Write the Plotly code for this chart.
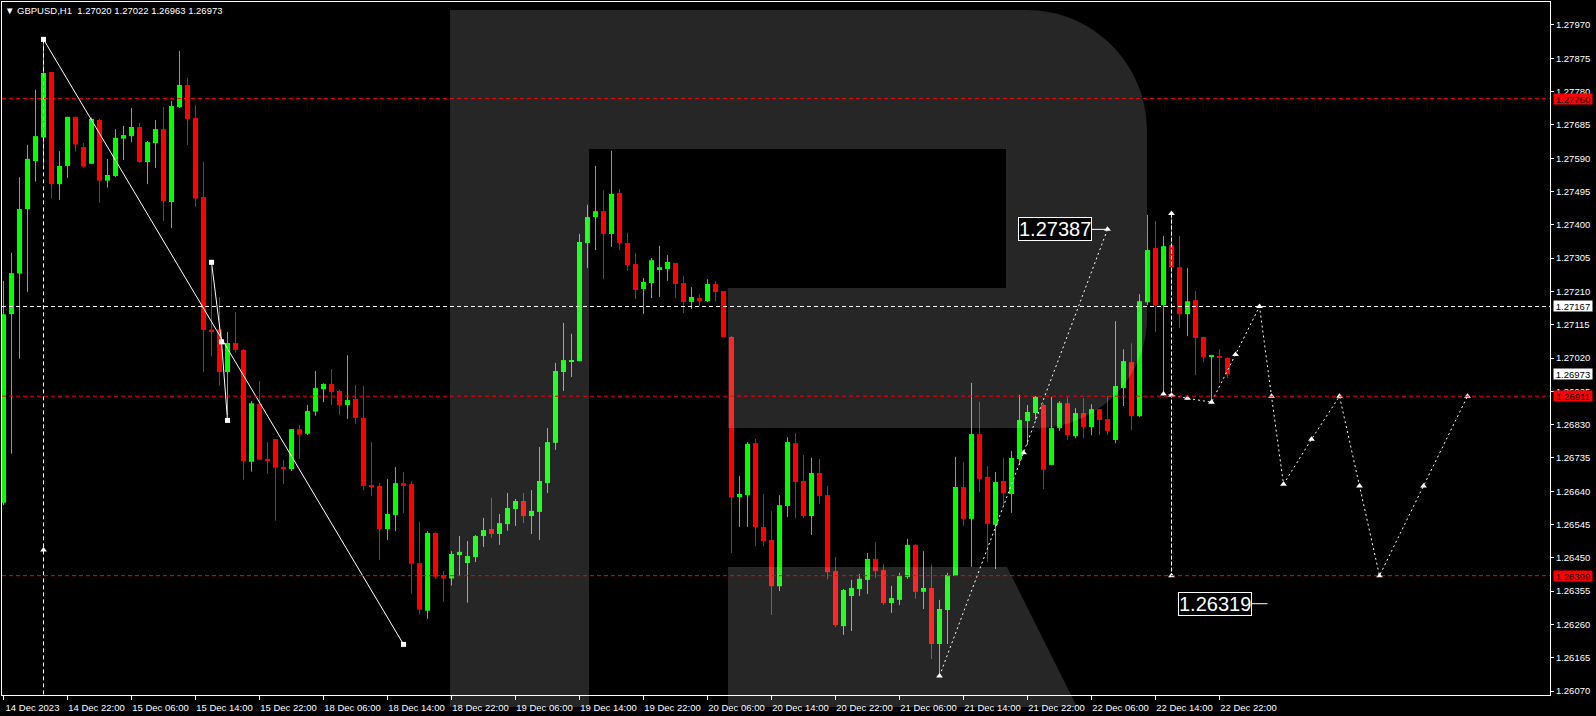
import plotly.graph_objects as go

# ---------------- data (GBPUSD H1) ----------------
opens = [1.26607,1.27145,1.27261,1.27445,1.27582,1.27649,1.27836,1.27516,1.27568,1.27708,
         1.27622,1.27574,1.27699,1.27526,1.27539,1.27646,1.27653,1.27679,1.27579,1.27633,
         1.27673,1.27465,1.27736,1.27799,1.27705,1.27479,1.27101,1.27101,1.26980,1.27063,
         1.27043,1.26724,1.26889,1.26732,1.26789,1.26709,1.26703,1.26817,1.26804,1.26867,
         1.26931,1.26946,1.26926,1.26886,1.26903,1.26849,1.26657,1.26655,1.26532,1.26572,
         1.26663,1.26660,1.26435,1.26299,1.26521,1.26401,1.26391,1.26458,1.26435,1.26452,
         1.26512,1.26532,1.26518,1.26546,1.26589,1.26612,1.26569,1.26581,1.26663,1.26778,
         1.26980,1.27011,1.27011,1.27348,1.27422,1.27439,1.27374,1.27491,1.27348,1.27288,
         1.27217,1.27234,1.27271,1.27274,1.27291,1.27234,1.27180,1.27191,1.27182,1.27231,
         1.27211,1.27080,1.26623,1.26629,1.26777,1.26538,1.26501,1.26369,1.26598,1.26777,
         1.26669,1.26569,1.26692,1.26629,1.26412,1.26255,1.26341,1.26361,1.26387,1.26447,
         1.26415,1.26321,1.26330,1.26395,1.26487,1.26353,1.26364,1.26204,1.26301,1.26398,
         1.26652,1.26561,1.26803,1.26681,1.26544,1.26669,1.26632,1.26732,1.26840,1.26863,
         1.26886,1.26715,1.26820,1.26891,1.26797,1.26863,1.26823,1.26874,1.26846,1.26786,
         1.26934,1.27008,1.26854,1.27179,1.27334,1.27171,1.27342,1.27279,1.27145,1.27185,
         1.27080,1.27023,1.27023,1.27020]
highs = [1.27240,1.27320,1.27536,1.27628,1.27785,1.27929,1.27836,1.27610,1.27708,1.27708,
         1.27633,1.27706,1.27702,1.27588,1.27673,1.27682,1.27733,1.27690,1.27639,1.27699,
         1.27736,1.27753,1.27896,1.27819,1.27742,1.27579,1.27280,1.27194,1.27094,1.27151,
         1.27046,1.26897,1.26954,1.26780,1.26789,1.26729,1.26817,1.26829,1.26886,1.26983,
         1.26948,1.26988,1.26929,1.27028,1.26943,1.26940,1.26780,1.26663,1.26675,1.26709,
         1.26695,1.26669,1.26552,1.26526,1.26524,1.26412,1.26469,1.26512,1.26498,1.26515,
         1.26564,1.26621,1.26575,1.26635,1.26618,1.26635,1.26643,1.26766,1.26820,1.27006,
         1.27120,1.27089,1.27374,1.27457,1.27568,1.27499,1.27611,1.27502,1.27377,1.27320,
         1.27248,1.27305,1.27340,1.27314,1.27291,1.27254,1.27222,1.27202,1.27245,1.27240,
         1.27211,1.27083,1.26683,1.26780,1.26789,1.26632,1.26583,1.26629,1.26794,1.26806,
         1.26743,1.26735,1.26732,1.26655,1.26452,1.26361,1.26387,1.26404,1.26464,1.26495,
         1.26432,1.26370,1.26407,1.26504,1.26489,1.26469,1.26430,1.26330,1.26407,1.26738,
         1.26723,1.26949,1.26895,1.26712,1.26695,1.26735,1.26755,1.26915,1.26886,1.26912,
         1.26890,1.26909,1.26897,1.26908,1.26877,1.26906,1.26888,1.26874,1.26911,1.27125,
         1.27045,1.27062,1.27202,1.27428,1.27411,1.27368,1.27430,1.27368,1.27276,1.27211,
         1.27080,1.27025,1.27045,1.27022]
lows = [1.26600,1.26747,1.27018,1.27209,1.27523,1.27571,1.27475,1.27471,1.27534,1.27609,
        1.27563,1.27574,1.27463,1.27506,1.27536,1.27585,1.27636,1.27576,1.27516,1.27562,
        1.27411,1.27391,1.27733,1.27628,1.27451,1.26980,1.27025,1.26941,1.26857,1.27035,
        1.26673,1.26696,1.26730,1.26690,1.26556,1.26661,1.26698,1.26732,1.26800,1.26855,
        1.26894,1.26886,1.26857,1.26846,1.26832,1.26643,1.26626,1.26444,1.26501,1.26526,
        1.26578,1.26347,1.26288,1.26276,1.26390,1.26325,1.26371,1.26398,1.26322,1.26438,
        1.26481,1.26507,1.26487,1.26527,1.26541,1.26549,1.26518,1.26501,1.26635,1.26758,
        1.26926,1.26966,1.27011,1.27277,1.27328,1.27245,1.27337,1.27328,1.27268,1.27188,
        1.27146,1.27191,1.27194,1.27240,1.27191,1.27148,1.27160,1.27168,1.27180,1.27182,
        1.27080,1.26464,1.26538,1.26538,1.26483,1.26483,1.26287,1.26355,1.26566,1.26563,
        1.26563,1.26515,1.26603,1.26389,1.26252,1.26230,1.26241,1.26341,1.26347,1.26392,
        1.26315,1.26293,1.26315,1.26390,1.26333,1.26304,1.26161,1.26113,1.26204,1.26398,
        1.26541,1.26424,1.26638,1.26438,1.26418,1.26598,1.26578,1.26715,1.26772,1.26843,
        1.26646,1.26715,1.26812,1.26786,1.26791,1.26791,1.26800,1.26800,1.26800,1.26777,
        1.26883,1.26814,1.26851,1.27171,1.27094,1.26917,1.27200,1.27105,1.27082,1.26971,
        1.27008,1.26900,1.26948,1.26963]
closes = [1.27145,1.27262,1.27445,1.27588,1.27653,1.27833,1.27516,1.27568,1.27708,1.27629,
          1.27566,1.27702,1.27526,1.27542,1.27648,1.27656,1.27679,1.27579,1.27636,1.27673,
          1.27468,1.27739,1.27799,1.27702,1.27475,1.27100,1.27097,1.26980,1.27063,1.27043,
          1.26726,1.26891,1.26730,1.26727,1.26707,1.26704,1.26817,1.26801,1.26869,1.26934,
          1.26946,1.26923,1.26886,1.26900,1.26849,1.26655,1.26653,1.26532,1.26575,1.26663,
          1.26655,1.26433,1.26302,1.26521,1.26396,1.26391,1.26461,1.26467,1.26455,1.26512,
          1.26529,1.26518,1.26549,1.26592,1.26612,1.26569,1.26584,1.26669,1.26780,1.26983,
          1.27014,1.27014,1.27351,1.27422,1.27439,1.27374,1.27488,1.27348,1.27285,1.27214,
          1.27237,1.27299,1.27279,1.27294,1.27231,1.27180,1.27194,1.27182,1.27231,1.27208,
          1.27080,1.26623,1.26632,1.26775,1.26538,1.26498,1.26369,1.26600,1.26780,1.26666,
          1.26569,1.26692,1.26626,1.26409,1.26258,1.26358,1.26364,1.26390,1.26447,1.26412,
          1.26321,1.26335,1.26398,1.26487,1.26353,1.26364,1.26204,1.26304,1.26401,1.26652,
          1.26561,1.26803,1.26675,1.26547,1.26666,1.26635,1.26735,1.26843,1.26866,1.26909,
          1.26701,1.26820,1.26892,1.26800,1.26863,1.26823,1.26874,1.26843,1.26811,1.26940,
          1.27011,1.26854,1.27182,1.27328,1.27171,1.27339,1.27279,1.27145,1.27182,1.27077,
          1.27023,1.27025,1.27021,1.26973]

x_tick_labels = ["14 Dec 2023", "14 Dec 22:00", "15 Dec 06:00", "15 Dec 14:00", "15 Dec 22:00",
                 "18 Dec 06:00", "18 Dec 14:00", "18 Dec 22:00", "19 Dec 06:00", "19 Dec 14:00",
                 "19 Dec 22:00", "20 Dec 06:00", "20 Dec 14:00", "20 Dec 22:00", "21 Dec 06:00",
                 "21 Dec 14:00", "21 Dec 22:00", "22 Dec 06:00", "22 Dec 14:00", "22 Dec 22:00"]
bars_per_label = 8
y_tick_values = [1.26070, 1.26165, 1.26260, 1.26355, 1.26450, 1.26545, 1.26640, 1.26735,
                 1.26830, 1.26925, 1.27020, 1.27115, 1.27210, 1.27305, 1.27400, 1.27495,
                 1.27590, 1.27685, 1.27780, 1.27875, 1.27970]

red_levels = [1.27760, 1.26911, 1.26399]
white_level = 1.27167
current_price = 1.26973

# old zigzag (solid) lines
zig_long_x = [5, 50]
zig_long_y = [1.27929, 1.26203]
zig_short_x = [26, 27.25, 28]
zig_short_y = [1.27293, 1.27066, 1.26842]
old_vertical_x = 5
old_vertical_top = 1.27929
old_target = 1.26472

# forecast paths (dashed)
path_a_x = [117, 127.5, 138]
path_a_y = [1.26113, 1.26750, 1.27387]
path_b_x = [145, 146, 148, 151, 154, 157, 158.5, 160, 163.5, 167, 169.5, 172, 177.5, 183]
path_b_y = [1.26917, 1.26914, 1.26905, 1.26894, 1.27030, 1.27167, 1.26911, 1.26660,
            1.26788, 1.26911, 1.26655, 1.26399, 1.26655, 1.26911]
vert_b_x = [146, 146]
vert_b_y = [1.27432, 1.26399]

target_labels = ["1.27387", "1.26319"]
target_x = [138, 158]
target_y = [1.27387, 1.26319]

title_text = "▼ GBPUSD,H1\u00a0\u00a01.27020 1.27022 1.26963 1.26973"

# ---------------- style ----------------
W, H = 1596, 716
ML, MR, MT, MB = 2, 46, 2, 21
PW, PH = W - ML - MR, H - MT - MB
X_RANGE = [-0.1875, -0.1875 + PW / 8.0]
Y_RANGE = [1.260586, 1.280356]
GREEN, RED, WHITE = "#00FF00", "#FF0000", "#FFFFFF"
FONT = "Liberation Sans, Arial, DejaVu Sans, sans-serif"
px_price = (Y_RANGE[1] - Y_RANGE[0]) / PH

fig = go.Figure()

# candles
n = len(opens)
for is_up, col in ((True, GREEN), (False, RED)):
    idx = [i for i in range(n) if (closes[i] >= opens[i]) == is_up]
    wx, wy = [], []
    for i in idx:
        wx += [i, i, None]
        wy += [lows[i], highs[i], None]
    fig.add_trace(go.Scatter(x=wx, y=wy, mode="lines", line=dict(color=col, width=1),
                             hoverinfo="skip", showlegend=False))
    fig.add_trace(go.Bar(x=idx,
                         y=[max(abs(closes[i] - opens[i]), px_price) for i in idx],
                         base=[min(opens[i], closes[i]) for i in idx],
                         width=0.625, marker=dict(color=col, line=dict(width=0)),
                         hoverinfo="skip", showlegend=False))

# old zigzag lines
fig.add_trace(go.Scatter(x=zig_long_x, y=zig_long_y, mode="lines+markers",
                         line=dict(color=WHITE, width=1),
                         marker=dict(symbol="square", size=5, color=WHITE),
                         hoverinfo="skip", showlegend=False))
fig.add_trace(go.Scatter(x=zig_short_x, y=zig_short_y, mode="lines+markers",
                         line=dict(color=WHITE, width=1),
                         marker=dict(symbol="square", size=5, color=WHITE),
                         hoverinfo="skip", showlegend=False))
fig.add_trace(go.Scatter(x=[old_vertical_x, old_vertical_x], y=[old_vertical_top, Y_RANGE[0]],
                         mode="lines", line=dict(color=WHITE, width=1, dash="4px,3px"),
                         hoverinfo="skip", showlegend=False))
fig.add_trace(go.Scatter(x=[old_vertical_x], y=[old_target], mode="markers",
                         marker=dict(symbol="triangle-up", size=6, color=WHITE),
                         hoverinfo="skip", showlegend=False))

# forecast paths
fig.add_trace(go.Scatter(x=path_a_x, y=path_a_y, mode="lines+markers",
                         line=dict(color=WHITE, width=1, dash="2px,3px"),
                         marker=dict(symbol="triangle-up", size=6, color=WHITE),
                         hoverinfo="skip", showlegend=False))
fig.add_trace(go.Scatter(x=vert_b_x, y=vert_b_y, mode="lines+markers",
                         line=dict(color=WHITE, width=1, dash="4px,2px"),
                         marker=dict(symbol="triangle-up", size=6, color=WHITE),
                         hoverinfo="skip", showlegend=False))
fig.add_trace(go.Scatter(x=path_b_x, y=path_b_y, mode="lines+markers",
                         line=dict(color=WHITE, width=1, dash="2px,3px"),
                         marker=dict(symbol="triangle-up", size=6, color=WHITE),
                         hoverinfo="skip", showlegend=False))

# ---------------- watermark logo (pixel outline -> paper) ----------------
def pp(x, y):
    return f"{(x - ML) / PW:.5f},{(H - MB - y) / PH:.5f}"

logo_main = ("M " + pp(450, 10) + " L " + pp(1027, 10) +
             " C " + pp(1093, 10) + " " + pp(1147, 64) + " " + pp(1147, 130) +
             " L " + pp(1147, 318) +
             " C " + pp(1147, 378) + " " + pp(1097, 428) + " " + pp(1037, 428) +
             " L " + pp(728, 428) + " L " + pp(728, 288) + " L " + pp(1006, 288) +
             " L " + pp(1006, 149) + " L " + pp(589, 149) + " L " + pp(589, 707) +
             " L " + pp(450, 707) + " Z")
logo_leg = ("M " + pp(728, 567) + " L " + pp(1007, 567) + " L " + pp(1077, 707) +
            " L " + pp(728, 707) + " Z")
shapes = []
for p in (logo_main, logo_leg):
    shapes.append(dict(type="path", path=p, xref="paper", yref="paper",
                       fillcolor="rgba(255,255,255,0.149)", line=dict(width=0), layer="above"))

for lv in red_levels:
    shapes.append(dict(type="line", xref="paper", yref="y", x0=0, x1=1, y0=lv, y1=lv,
                       line=dict(color=RED, width=1, dash="4px,3px"), layer="above"))
shapes.append(dict(type="line", xref="paper", yref="y", x0=0, x1=1, y0=white_level, y1=white_level,
                   line=dict(color=WHITE, width=1, dash="4px,3px"), layer="above"))

# ---------------- annotations ----------------
annotations = []
price_tags = [(v, RED) for v in red_levels] + [(white_level, WHITE), (current_price, WHITE)]
for v, bg in price_tags:
    annotations.append(dict(x=1, xref="paper", y=v, yref="y", xanchor="left", yanchor="middle",
                            xshift=3, text=f"{v:.5f}", showarrow=False, bgcolor=bg,
                            width=38, height=10, borderpad=0, align="center",
                            font=dict(family=FONT, size=9.5, color="#000000")))
for txt, tx, ty in zip(target_labels, target_x, target_y):
    annotations.append(dict(x=tx, y=ty, xref="x", yref="y", text=txt, showarrow=True,
                            arrowhead=0, arrowwidth=1, arrowcolor=WHITE, ax=-53, ay=0,
                            standoff=0, bgcolor="#000000", bordercolor=WHITE, borderwidth=1,
                            borderpad=0, font=dict(family=FONT, size=20, color=WHITE)))

fig.update_layout(
    width=W, height=H,
    margin=dict(l=ML, r=MR, t=MT, b=MB, autoexpand=False),
    paper_bgcolor="#000000", plot_bgcolor="#000000",
    barmode="overlay", hovermode=False, showlegend=False,
    shapes=shapes, annotations=annotations,
    title=dict(text=title_text, x=5 / W, xanchor="left", xref="container",
               y=1 - 11 / H, yanchor="middle", yref="container",
               font=dict(family=FONT, size=9.5, color=WHITE)),
    xaxis=dict(range=X_RANGE, tickmode="array",
               tickvals=[k * bars_per_label for k in range(len(x_tick_labels))],
               ticktext=x_tick_labels, ticks="outside", ticklen=4, tickcolor=WHITE,
               ticklabelshift=29, ticklabelstandoff=0,
               tickfont=dict(family=FONT, size=9.5, color=WHITE),
               showline=True, linecolor=WHITE, linewidth=1, mirror=True,
               showgrid=False, zeroline=False, fixedrange=True),
    yaxis=dict(range=Y_RANGE, side="right", tickmode="array", tickvals=y_tick_values,
               ticktext=[f"{v:.5f}" for v in y_tick_values], ticks="outside", ticklen=3,
               tickcolor=WHITE, tickfont=dict(family=FONT, size=9.5, color=WHITE),
               showline=True, linecolor=WHITE, linewidth=1, mirror=True,
               showgrid=False, zeroline=False, fixedrange=True),
)

fig.write_html("out.html", config={"displayModeBar": False},
               post_script="document.body.style.margin='0';document.body.style.overflow='hidden';")
